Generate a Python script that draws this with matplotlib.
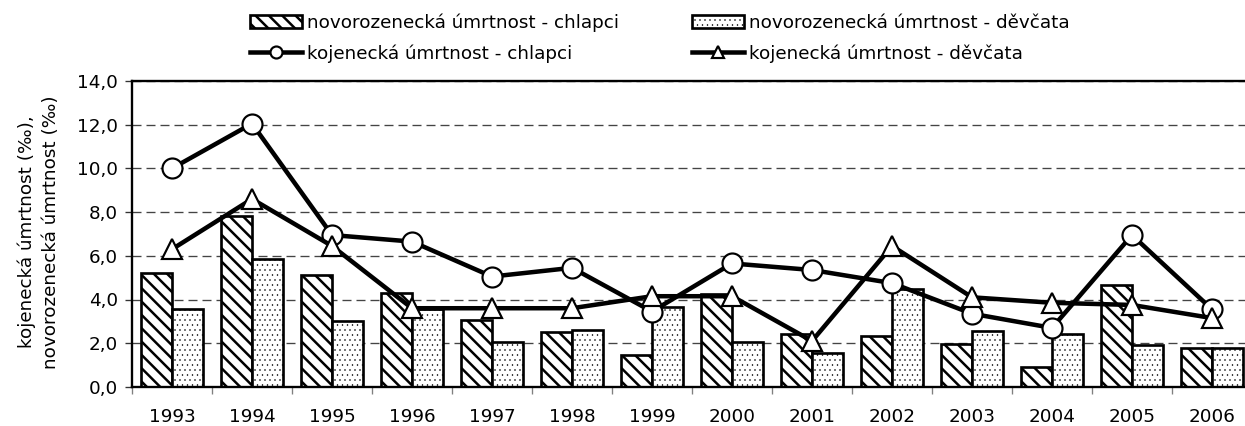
import matplotlib
matplotlib.use("Agg")
import matplotlib.pyplot as plt
import numpy as np
from matplotlib.ticker import FixedLocator, FuncFormatter

# ---- data ----
years = ["1993", "1994", "1995", "1996", "1997", "1998", "1999",
         "2000", "2001", "2002", "2003", "2004", "2005", "2006"]
neo_boys = [5.2, 7.8, 5.1, 4.3, 3.05, 2.5, 1.45, 4.25, 2.4, 2.35, 1.95, 0.9, 4.65, 1.8]
neo_girls = [3.55, 5.85, 3.0, 3.55, 2.05, 2.6, 3.65, 2.05, 1.55, 4.5, 2.55, 2.4, 1.9, 1.8]
inf_boys = [10.0, 12.05, 6.95, 6.65, 5.05, 5.45, 3.45, 5.65, 5.35, 4.75, 3.35, 2.7, 6.95, 3.55]
inf_girls = [6.3, 8.6, 6.45, 3.6, 3.6, 3.6, 4.15, 4.15, 2.1, 6.45, 4.1, 3.85, 3.75, 3.15]

lbl_neo_boys = "novorozenecká úmrtnost - chlapci"
lbl_neo_girls = "novorozenecká úmrtnost - děvčata"
lbl_inf_boys = "kojenecká úmrtnost - chlapci"
lbl_inf_girls = "kojenecká úmrtnost - děvčata"
ylabel = "kojenecká úmrtnost (‰),\nnovorozenecká úmrtnost (‰)"

plt.rcParams['font.family'] = ['DejaVu Sans']
plt.rcParams['font.size'] = 11
plt.rcParams['hatch.color'] = 'black'

W, H, DPI = 1245, 426, 120
HATCH_LW = 1.5
DOT_LW = 0.3

fig = plt.figure(figsize=(W / DPI, H / DPI), dpi=DPI)
ax = fig.add_axes([132 / W, (H - 386.9) / H, 1120 / W, (386.9 - 81) / H])

x = np.arange(len(years))
bw = 0.39


def set_hlw(p, lw):
    if hasattr(p, 'set_hatch_linewidth'):
        p.set_hatch_linewidth(lw)


plt.rcParams['hatch.linewidth'] = HATCH_LW
b1 = ax.bar(x - bw / 2, neo_boys, width=bw, facecolor='white', edgecolor='black',
            linewidth=1.6, hatch='\\\\\\', label=lbl_neo_boys, zorder=2)
for p in b1:
    set_hlw(p, HATCH_LW)
plt.rcParams['hatch.linewidth'] = DOT_LW
b2 = ax.bar(x + bw / 2, neo_girls, width=bw, facecolor='white', edgecolor='black',
            linewidth=1.6, hatch='....', label=lbl_neo_girls, zorder=2)
for p in b2:
    set_hlw(p, DOT_LW)

l1, = ax.plot(x, inf_boys, color='black', lw=2.7, marker='o', ms=12,
              mfc='white', mec='black', mew=1.3, label=lbl_inf_boys, zorder=4)
l2, = ax.plot(x, inf_girls, color='black', lw=2.7, marker='^', ms=11.5,
              mfc='white', mec='black', mew=1.3, label=lbl_inf_girls, zorder=5)

ax.set_xlim(-0.5, len(years) - 0.5)
ax.set_ylim(0, 14)
ax.yaxis.set_major_locator(FixedLocator(np.arange(0, 14.01, 2)))
ax.yaxis.set_major_formatter(FuncFormatter(lambda v, p: f"{v:.1f}".replace('.', ',')))
ax.yaxis.grid(True, color='#444444', lw=0.8, linestyle=(0, (6.75, 3.75)), zorder=0)
ax.set_axisbelow(True)

ax.set_xticks(x)
ax.set_xticklabels(years)
ax.set_xticks(np.arange(-0.5, len(years), 1.0), minor=True)
ax.tick_params(axis='x', which='major', length=0, pad=12.5, labelsize=11)
ax.tick_params(axis='x', which='minor', length=4, width=0.8, color='#808080')
ax.tick_params(axis='y', which='major', length=4.2, width=0.8, color='#333333',
               pad=4.2, labelsize=11)

for s in ax.spines.values():
    s.set_color('black')
    s.set_linewidth(1.4)

fig.text(38.5 / W, 1 - 232 / H, ylabel, rotation=90, ha='center', va='center',
         multialignment='center', fontsize=11, linespacing=1.4)

leg = fig.legend([b1, l1, b2, l2], [lbl_neo_boys, lbl_inf_boys, lbl_neo_girls, lbl_inf_girls],
                 ncol=2, loc='upper left', bbox_to_anchor=(250 / W, 1 - 13 / H),
                 frameon=False, borderpad=0, borderaxespad=0, handlelength=2.84,
                 handletextpad=0.27, columnspacing=4.0, labelspacing=0.7,
                 numpoints=1, markerscale=0.6, fontsize=11)
hs = leg.legend_handles
set_hlw(hs[0], HATCH_LW)
set_hlw(hs[2], DOT_LW)

fig.savefig("out.png", dpi=DPI)
